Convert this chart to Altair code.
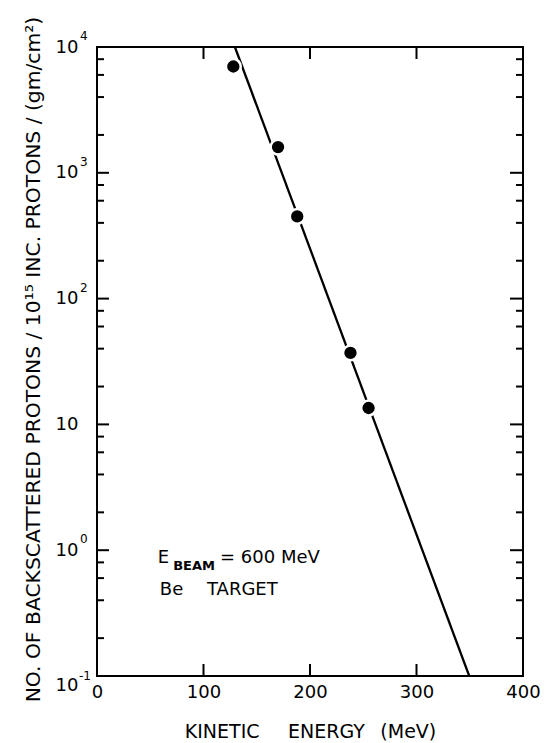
import altair as alt
import pandas as pd

# measured data points (kinetic energy in MeV, counts)
energy = [128, 170, 188, 238, 255]
counts = [7000, 1600, 450, 37, 13.5]

# fitted straight line on the log plot
fit_energy = [129.5, 349.5]
fit_counts = [10000, 0.1]

# axis ticks
y_major = [0.1, 1, 10, 100, 1000, 10000]
y_sup_values = [10000, 1000, 100, 1]
y_sup_text = ["4", "3", "2", "0"]
y_sup_low_values = [0.1]
y_sup_low_text = ["-1"]
y_minor = [0.2, 0.4, 0.6, 0.8, 2, 4, 6, 8, 20, 40, 60, 80,
           200, 400, 600, 800, 2000, 4000, 6000, 8000]
x_major = [0, 100, 200, 300, 400]
x_inner = [100, 200, 300]

# annotation text
ann_main_x = [57, 115.5, 59]
ann_main_y = [0.79, 0.79, 0.44]
ann_main_text = ["E", "= 600 MeV", "Be\u2003 TARGET"]
ann_sub_x = [71.5]
ann_sub_y = [0.70]
ann_sub_text = ["BEAM"]

W, H = 426, 629
FONT = "DejaVu Sans"

xs = alt.Scale(domain=[0, 400], nice=False, zero=False)
ys = alt.Scale(type="log", domain=[0.1, 10000], nice=False)

x_axis = alt.Axis(
    values=x_major, ticks=False, domain=False, grid=False,
    labelPadding=7, labelFontSize=18, labelFont=FONT, labelColor="black",
    labelFlush=False, labelOverlap=False,
    title="KINETIC\u2003\u2002ENERGY\u2002 (MeV)", titleFont=FONT, titleFontSize=19,
    titleFontWeight="normal", titleColor="black",
    titleX=W / 2, titleY=61, titleBaseline="alphabetic",
)
y_axis = alt.Axis(
    values=y_major, labelExpr="'10'", ticks=False, domain=False, grid=False,
    labelPadding=19, labelFontSize=18, labelFont=FONT, labelColor="black",
    labelFlush=False, labelOverlap=False,
    labelBaseline={"condition": {"test": "datum.value < 0.5", "value": "top"}, "value": "middle"},
    title="NO. OF BACKSCATTERED PROTONS / 10\u00b9\u2075 INC. PROTONS / (gm/cm\u00b2)",
    titleFont=FONT, titleFontSize=20.3, titleFontWeight="normal", titleColor="black",
    titleX=-58, titleY=312, titleBaseline="alphabetic", titleAngle=-90,
)

pts_df = pd.DataFrame({"E": energy, "N": counts})
fit_df = pd.DataFrame({"E": fit_energy, "N": fit_counts})
ymaj_df = pd.DataFrame({"N": y_major})
ymin_df = pd.DataFrame({"N": y_minor})
xin_df = pd.DataFrame({"E": x_inner})
sup_df = pd.DataFrame({"N": y_sup_values, "t": y_sup_text})
suplow_df = pd.DataFrame({"N": y_sup_low_values, "t": y_sup_low_text})
ann_df = pd.DataFrame({"E": ann_main_x, "N": ann_main_y, "t": ann_main_text})
sub_df = pd.DataFrame({"E": ann_sub_x, "N": ann_sub_y, "t": ann_sub_text})

X = lambda: alt.X("E:Q", scale=xs, axis=x_axis)
Y = lambda: alt.Y("N:Q", scale=ys, axis=y_axis)

line = alt.Chart(fit_df).mark_line(color="black", strokeWidth=2.3, clip=True).encode(x=X(), y=Y())
points = alt.Chart(pts_df).mark_point(
    filled=True, fill="black", size=220, stroke="white", strokeWidth=2.5, opacity=1
).encode(x=X(), y=Y())

def yticks(df, x0, x1):
    return alt.Chart(df).mark_rule(color="black", strokeWidth=2).encode(
        y=Y(), x=alt.value(x0), x2=alt.value(x1)
    )

def xticks(df, y0, y1):
    return alt.Chart(df).mark_rule(color="black", strokeWidth=2).encode(
        x=X(), y=alt.value(y0), y2=alt.value(y1)
    )

ticks = [
    yticks(ymaj_df, 0, 12), yticks(ymin_df, 0, 7),
    yticks(ymaj_df, W, W - 13), yticks(ymin_df, W, W - 7),
    xticks(xin_df, 0, 12), xticks(xin_df, H, H - 12),
]

sup = alt.Chart(sup_df).mark_text(
    align="left", baseline="middle", fontSize=12, font=FONT, color="black", dy=-11
).encode(y=Y(), x=alt.value(-17), text="t:N")
suplow = alt.Chart(suplow_df).mark_text(
    align="left", baseline="middle", fontSize=12, font=FONT, color="black", dy=0
).encode(y=Y(), x=alt.value(-18), text="t:N")

ann = alt.Chart(ann_df).mark_text(
    align="left", baseline="alphabetic", fontSize=18, font=FONT, color="black"
).encode(x=X(), y=Y(), text="t:N")
sub = alt.Chart(sub_df).mark_text(
    align="left", baseline="alphabetic", fontSize=13, fontWeight="bold", font=FONT, color="black"
).encode(x=X(), y=Y(), text="t:N")

chart = alt.layer(line, points, *ticks, sup, suplow, ann, sub).properties(
    width=W, height=H,
    autosize=alt.AutoSizeParams(type="none"),
    padding={"left": 89, "top": 39, "right": 20, "bottom": 66},
    background="white",
).configure_view(stroke="black", strokeWidth=2)

chart.save("out.html", embed_options={"renderer": "svg", "actions": False})
